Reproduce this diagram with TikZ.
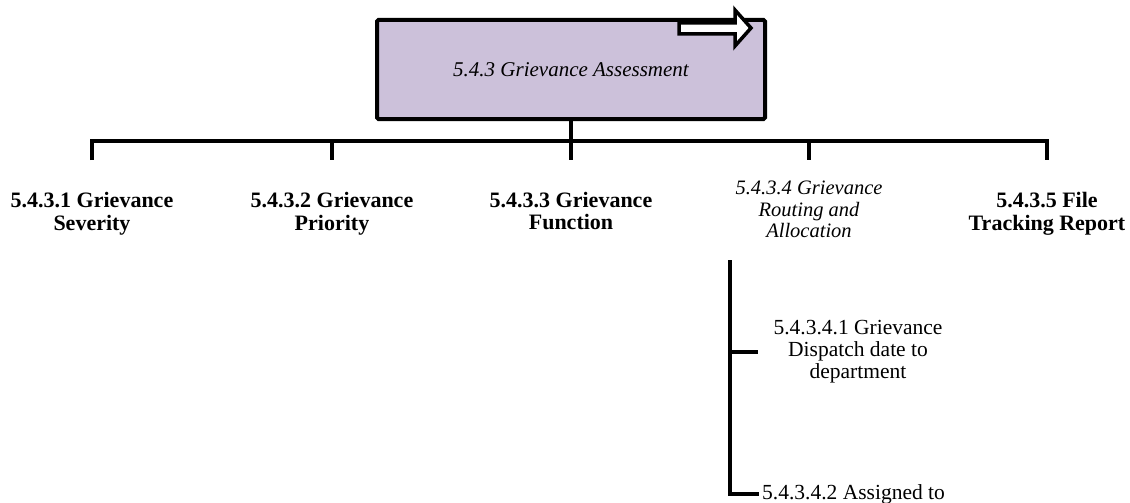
\documentclass[tikz,border=0pt]{standalone}
\usepackage{fontspec}
\setmainfont{Liberation Serif}
\definecolor{lav}{HTML}{CCC1DA}
\begin{document}
\begin{tikzpicture}[x=1pt,y=-1pt,
  conn/.style={line width=4.5pt},
  rootbox/.style={draw, line width=4pt, fill=lav, rounded corners=1.5pt,
    minimum width=388pt, minimum height=99pt, inner sep=0pt,
    font=\fontsize{21}{23}\selectfont\itshape},
  lbl/.style={align=center, inner sep=0pt, font=\fontsize{22}{23}\selectfont\bfseries},
  lbli/.style={align=center, inner sep=0pt, font=\fontsize{20.5}{21.5}\selectfont\itshape},
  sublbl/.style={align=center, inner sep=0pt, font=\fontsize{21.5}{22}\selectfont}]
\useasboundingbox (0,0) rectangle (1130,503);
\clip (0,0) rectangle (1130,503);

% root box
\node[rootbox] (root) at (571,69.5) {5.4.3 Grievance Assessment};
% block arrow inside root box
\draw[line width=3.5pt, fill=white, line join=miter]
  (679,23) -- (735,23) -- (735,10) -- (751,28) -- (735,46) -- (735,34) -- (679,34) -- cycle;

% second level labels
\node[lbl]  (c1) at (92,213.3)  {5.4.3.1 Grievance\\Severity};
\node[lbl]  (c2) at (332,213.3) {5.4.3.2 Grievance\\Priority};
\node[lbl]  (c3) at (571,211)   {5.4.3.3 Grievance\\Function};
\node[lbli] (c4) at (809,209.5) {5.4.3.4 Grievance\\Routing and\\Allocation};
\node[lbl]  (c5) at (1047,213.3) {5.4.3.5 File\\Tracking Report};

% third level labels
\node[sublbl] (s1) at (858,352) {5.4.3.4.1 Grievance\\Dispatch date to\\department};
\node[sublbl, anchor=west] (s2) at (762,494) {5.4.3.4.2 Assigned to};

% connector coordinates
\coordinate (hub) at (571,141);
\coordinate (d1) at (92,160);
\coordinate (d2) at (332,160);
\coordinate (d3) at (571,160);
\coordinate (d4) at (809,160);
\coordinate (d5) at (1047,160);
\coordinate (sub) at (730,260);

% connectors
\draw[conn] (root.south) -- (hub);
\draw[conn, line join=miter] (d1) |- (d5 |- hub) -- (d5);
\draw[conn] (d2 |- hub) -- (d2);
\draw[conn] (d3 |- hub) -- (d3);
\draw[conn] (d4 |- hub) -- (d4);
\draw[conn, line join=miter, shorten >=3pt] (sub) |- (s2.west);
\draw[conn, shorten >=15pt] (sub |- s1.west) -- (s1.west);
\end{tikzpicture}
\end{document}
